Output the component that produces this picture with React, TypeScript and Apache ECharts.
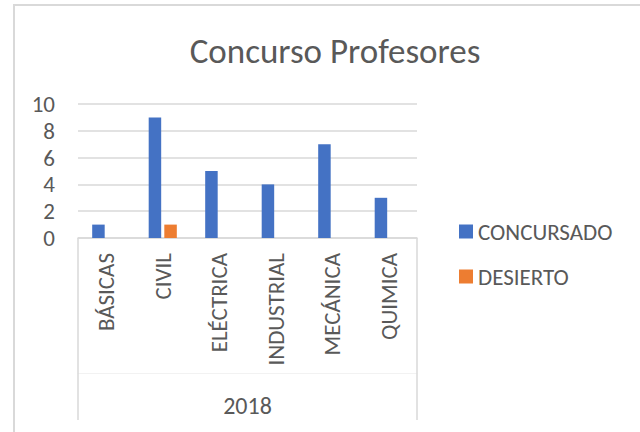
import React, { useEffect, useRef } from "react";
import * as echarts from "echarts";

const categories = ["BÁSICAS", "CIVIL", "ELÉCTRICA", "INDUSTRIAL", "MECÁNICA", "QUIMICA"];
const groupLabels = ["2018"];
const concursado = [1, 9, 5, 4, 7, 3];
const desierto = [null, 1, null, null, null, null];
const seriesNames = ["CONCURSADO", "DESIERTO"];
const yTicks = { min: 0, max: 10, interval: 2 };

const FONT = "Carlito, Calibri, Lato, sans-serif";
const TEXT = "#595959";
const GRID = "#d9d9d9";

export default function App() {
  const ref = useRef<HTMLDivElement>(null);
  useEffect(() => {
    if (!ref.current) return;
    const chart = echarts.init(ref.current, undefined, { renderer: "svg" });
    chart.setOption({
      animation: false,
      backgroundColor: "#ffffff",
      textStyle: { fontFamily: FONT },
      title: {
        text: "Concurso Profesores",
        left: 330,
        top: 28,
        textAlign: "center",
        textStyle: { fontFamily: FONT, fontSize: 35, fontWeight: "normal", color: TEXT },
      },
      legend: {
        orient: "vertical",
        left: 454,
        top: 215,
        icon: "rect",
        itemWidth: 14,
        itemHeight: 14,
        itemGap: 22,
        data: seriesNames,
        textStyle: { fontFamily: FONT, fontSize: 23, color: TEXT },
      },
      grid: { left: 78, right: 223, top: 104, bottom: 194, containLabel: false },
      xAxis: [
        {
          type: "category",
          data: categories,
          axisLine: { show: true, lineStyle: { color: GRID, width: 1.5 } },
          axisTick: { show: false },
          axisLabel: {
            rotate: 90,
            margin: 15,
            fontFamily: FONT,
            fontSize: 23,
            color: TEXT,
            interval: 0,
          },
        },
        {
          type: "category",
          data: groupLabels,
          position: "bottom",
          offset: 0,
          axisLine: { show: false },
          axisTick: { show: true, length: 182, lineStyle: { color: GRID, width: 1.5 } },
          axisLabel: { show: false },
        },
        {
          type: "category",
          data: groupLabels,
          position: "bottom",
          offset: 135,
          axisLine: { show: true, lineStyle: { color: "#f2f2f2", width: 1 } },
          axisTick: { show: false },
          axisLabel: { show: true, margin: 20, fontFamily: FONT, fontSize: 24, color: TEXT },
        },
      ],
      yAxis: {
        type: "value",
        min: yTicks.min,
        max: yTicks.max,
        interval: yTicks.interval,
        axisLine: { show: false },
        axisTick: { show: false },
        splitLine: { lineStyle: { color: GRID, width: 1.5 } },
        axisLabel: { margin: 23, fontFamily: FONT, fontSize: 23, color: TEXT },
      },
      series: [
        {
          name: seriesNames[0],
          type: "bar",
          data: concursado,
          barWidth: 12.5,
          barGap: "25%",
          itemStyle: { color: "#4472C4" },
        },
        {
          name: seriesNames[1],
          type: "bar",
          data: desierto,
          barWidth: 12.5,
          barGap: "25%",
          itemStyle: { color: "#ED7D31" },
        },
      ],
      graphic: [
        {
          type: "rect",
          shape: { x: 14, y: 5, width: 700, height: 500 },
          style: { fill: "none", stroke: "#d9d9d9", lineWidth: 2 },
          silent: true,
          z: 100,
        },
      ],
    });
    return () => chart.dispose();
  }, []);
  return (
    <div
      ref={ref}
      style={{ position: "absolute", left: 0, top: 0, width: 640, height: 432, background: "#fff" }}
    />
  );
}
